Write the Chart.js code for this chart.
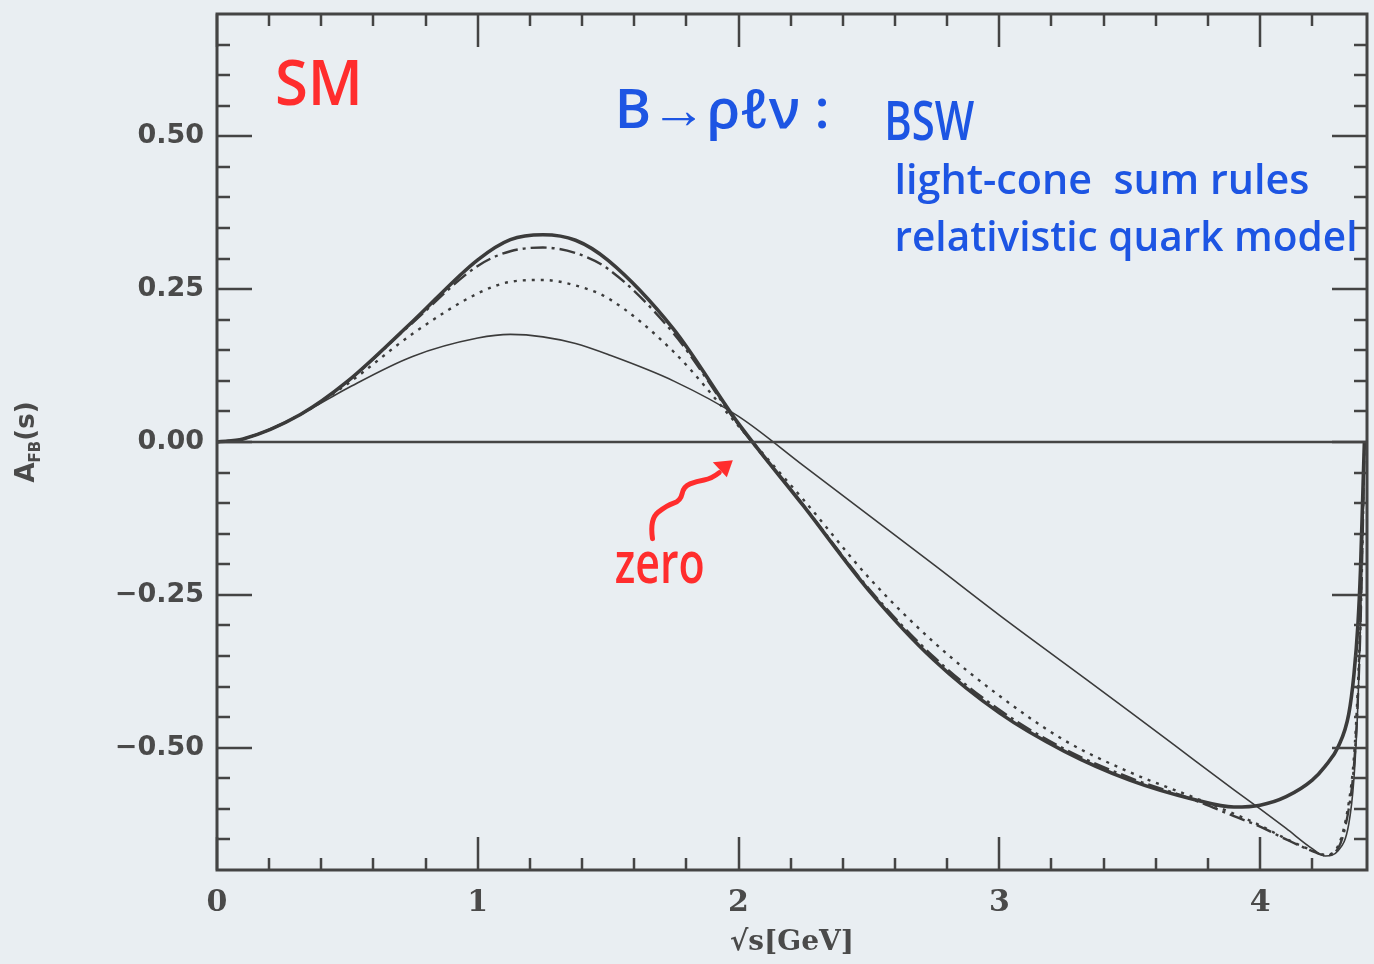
<!DOCTYPE html>
<html>
<head>
<meta charset="utf-8">
<title>A_FB(s) for B → ρℓν</title>
<script src="https://cdn.jsdelivr.net/npm/chart.js@4"></script>
<style>
  html, body { margin: 0; padding: 0; background: #e9eef2; }
  #wrap { width: 1374px; height: 964px; }
</style>
</head>
<body>
<div id="wrap"><canvas id="afbChart" width="1374" height="964"></canvas></div>
<script>
// sqrt(s) in GeV, shared by all curves (denser near the endpoint)
const sqrtS = [0, 0.1, 0.32, 0.5, 0.75, 1.0, 1.125, 1.25, 1.375, 1.5, 1.75, 2.0, 2.25, 2.5, 2.75, 3.0,
  3.25, 3.5, 3.75, 3.9, 4.0, 4.1, 4.2, 4.25, 4.3, 4.34, 4.36, 4.375, 4.385, 4.395, 4.40];

// forward-backward asymmetry, one list per curve
const afbThick = [0, 0.005, 0.045, 0.099, 0.197, 0.298, 0.331, 0.339, 0.330, 0.297, 0.185, 0.03, -0.105,
  -0.243, -0.357, -0.443, -0.506, -0.553, -0.585, -0.597, -0.594, -0.58, -0.553, -0.53,
  -0.498, -0.445, -0.38, -0.30, -0.21, -0.07, 0];
const afbDashDot = [0, 0.005, 0.045, 0.099, 0.195, 0.288, 0.312, 0.318, 0.309, 0.283, 0.178, 0.028, -0.104,
  -0.24, -0.352, -0.438, -0.502, -0.549, -0.586, -0.612, -0.629, -0.65, -0.669, -0.676,
  -0.664, -0.60, -0.53, -0.42, -0.30, -0.12, 0];
const afbDotted = [0, 0.005, 0.045, 0.095, 0.177, 0.243, 0.262, 0.265, 0.256, 0.235, 0.148, 0.026, -0.095,
  -0.222, -0.328, -0.415, -0.488, -0.54, -0.582, -0.608, -0.627, -0.649, -0.668, -0.675,
  -0.66, -0.59, -0.515, -0.40, -0.28, -0.10, 0];
const afbThin = [0, 0.005, 0.045, 0.088, 0.14, 0.17, 0.176, 0.172, 0.161, 0.143, 0.10, 0.042, -0.039,
  -0.12, -0.201, -0.283, -0.362, -0.441, -0.521, -0.569, -0.600, -0.632, -0.665, -0.677,
  -0.668, -0.625, -0.55, -0.43, -0.30, -0.12, 0];

// axis ranges and ticks
const xRange = [0, 4.41];
const yRange = [-0.70, 0.70];
const xMajor = [0, 1, 2, 3, 4];
const xMinor = [0.2, 0.4, 0.6, 0.8, 1.2, 1.4, 1.6, 1.8, 2.2, 2.4, 2.6, 2.8, 3.2, 3.4, 3.6, 3.8, 4.2];
const yMajor = [-0.5, -0.25, 0, 0.25, 0.5];
const yMinor = [-0.65, -0.6, -0.55, -0.45, -0.4, -0.35, -0.3, -0.2, -0.15, -0.1, -0.05,
  0.05, 0.1, 0.15, 0.2, 0.3, 0.35, 0.4, 0.45, 0.55, 0.6, 0.65];

const ink = '#3b3b3b';
const toPoints = vals => sqrtS.map((s, i) => ({ x: s, y: vals[i] }));

// frame with inward tick marks on all four sides
const frameTicks = {
  id: 'frameTicks',
  afterDatasetsDraw(chart) {
    const { ctx, chartArea: a, scales: { x, y } } = chart;
    ctx.save();
    ctx.strokeStyle = '#444';
    ctx.lineWidth = 2.5;
    ctx.beginPath();
    const xt = (v, len) => {
      const p = Math.round(x.getPixelForValue(v));
      ctx.moveTo(p, a.bottom); ctx.lineTo(p, a.bottom - len);
      ctx.moveTo(p, a.top); ctx.lineTo(p, a.top + len);
    };
    const yt = (v, len) => {
      const p = Math.round(y.getPixelForValue(v));
      ctx.moveTo(a.left, p); ctx.lineTo(a.left + len, p);
      ctx.moveTo(a.right, p); ctx.lineTo(a.right - len, p);
    };
    xMajor.forEach(v => xt(v, 33));
    xMinor.forEach(v => xt(v, 12));
    yMajor.forEach(v => yt(v, 35));
    yMinor.forEach(v => yt(v, 13));
    ctx.stroke();
    ctx.lineWidth = 3;
    ctx.strokeRect(a.left, a.top, a.right - a.left, a.bottom - a.top);
    ctx.restore();
  }
};

// y-axis title with the FB subscript
const yTitle = {
  id: 'yTitle',
  afterDraw(chart) {
    const { ctx, scales: { y } } = chart;
    const big = 'bold 26px "DejaVu Sans"';
    const small = 'bold 15px "DejaVu Sans"';
    ctx.save();
    ctx.fillStyle = '#4a4a4a';
    ctx.translate(34, y.getPixelForValue(0));
    ctx.rotate(-Math.PI / 2);
    ctx.textBaseline = 'alphabetic';
    ctx.font = big; const wA = ctx.measureText('A').width; const wS = ctx.measureText('(s)').width;
    ctx.font = small; const wF = ctx.measureText('FB').width;
    let cx = -(wA + wF + wS) / 2;
    ctx.font = big; ctx.fillText('A', cx, 0); cx += wA;
    ctx.font = small; ctx.fillText('FB', cx, 6); cx += wF;
    ctx.font = big; ctx.fillText('(s)', cx, 0);
    ctx.restore();
  }
};

// marker-pen notes on the plot
const notes = [
  { text: 'SM', x: 0.222, y: 0.551, size: 64, width: 88, color: '#ff2d2d' },
  { text: 'B→ρℓν :', x: 1.525, y: 0.513, size: 54, width: 215, color: '#1d55e3' },
  { text: 'BSW', x: 2.559, y: 0.494, size: 54, width: 90, color: '#1d55e3' },
  { text: 'light-cone  sum rules', x: 2.598, y: 0.405, size: 42, width: 415, color: '#1d55e3' },
  { text: 'relativistic quark model', x: 2.598, y: 0.312, size: 42, width: 463, color: '#1d55e3' },
  { text: 'zero', x: 1.525, y: -0.230, size: 58, width: 90, color: '#ff2d2d' }
];
const arrowPath = [[1.670, -0.158], [1.659, -0.126], [1.724, -0.104], [1.778, -0.096],
  [1.789, -0.073], [1.839, -0.064], [1.897, -0.060], [1.955, -0.040]];

const handNotes = {
  id: 'handNotes',
  afterDraw(chart) {
    const { ctx, scales: { x, y } } = chart;
    ctx.save();
    notes.forEach(n => {
      ctx.font = '600 ' + n.size + 'px "Open Sans"';
      ctx.fillStyle = n.color;
      const w = ctx.measureText(n.text).width;
      ctx.save();
      ctx.translate(x.getPixelForValue(n.x), y.getPixelForValue(n.y));
      ctx.scale(n.width / w, 1);
      ctx.fillText(n.text, 0, 0);
      ctx.restore();
    });
    // squiggly arrow pointing at the zero crossing
    const pts = arrowPath.map(p => [x.getPixelForValue(p[0]), y.getPixelForValue(p[1])]);
    ctx.strokeStyle = '#ff2d2d';
    ctx.fillStyle = '#ff2d2d';
    ctx.lineWidth = 5;
    ctx.lineCap = 'round';
    ctx.lineJoin = 'round';
    ctx.beginPath();
    ctx.moveTo(pts[0][0], pts[0][1]);
    for (let i = 1; i < pts.length - 1; i++) {
      const mx = (pts[i][0] + pts[i + 1][0]) / 2, my = (pts[i][1] + pts[i + 1][1]) / 2;
      ctx.quadraticCurveTo(pts[i][0], pts[i][1], mx, my);
    }
    ctx.stroke();
    const tip = [x.getPixelForValue(1.978), y.getPixelForValue(-0.030)];
    ctx.beginPath();
    ctx.moveTo(tip[0], tip[1]);
    ctx.lineTo(tip[0] - 20, tip[1] + 2);
    ctx.lineTo(tip[0] - 6, tip[1] + 17);
    ctx.closePath();
    ctx.fill();
    ctx.restore();
  }
};

const ctx = document.getElementById('afbChart').getContext('2d');
new Chart(ctx, {
  type: 'line',
  data: {
    datasets: [
      { data: xRange.map(v => ({ x: v, y: 0 })), borderColor: '#454545', borderWidth: 2.5 },
      { data: toPoints(afbThin), borderColor: ink, borderWidth: 1.6 },
      { data: toPoints(afbDotted), borderColor: ink, borderWidth: 2.4, borderDash: [3, 6] },
      { data: toPoints(afbDashDot), borderColor: ink, borderWidth: 2.4, borderDash: [16, 5, 3, 5] },
      { data: toPoints(afbThick), borderColor: ink, borderWidth: 3.6 }
    ]
  },
  options: {
    responsive: false,
    animation: false,
    layout: { padding: { top: 14, right: 7, left: 0, bottom: 0 } },
    elements: {
      point: { radius: 0 },
      line: { cubicInterpolationMode: 'monotone', fill: false }
    },
    plugins: { legend: { display: false }, tooltip: { enabled: false } },
    scales: {
      x: {
        type: 'linear',
        min: xRange[0],
        max: xRange[1],
        afterBuildTicks: s => { s.ticks = xMajor.map(v => ({ value: v })); },
        afterFit: s => { s.height = 94; s.paddingLeft = 0; s.paddingRight = 0; },
        grid: { display: false },
        border: { display: false },
        ticks: {
          autoSkip: false,
          maxRotation: 0,
          padding: 7,
          color: '#4a4a4a',
          font: { family: 'DejaVu Serif', weight: 'bold', size: 30 }
        },
        title: {
          display: true,
          text: '√s[GeV]',
          color: '#4a4a4a',
          padding: { top: 0, bottom: 4 },
          font: { family: 'DejaVu Serif', weight: 'bold', size: 28 }
        }
      },
      y: {
        type: 'linear',
        min: yRange[0],
        max: yRange[1],
        afterBuildTicks: s => { s.ticks = yMajor.map(v => ({ value: v })); },
        afterFit: s => { s.width = 217; s.paddingTop = 0; s.paddingBottom = 0; },
        grid: { display: false },
        border: { display: false },
        ticks: {
          padding: 5,
          color: '#4a4a4a',
          font: { family: 'DejaVu Sans', weight: 'bold', size: 27 },
          callback: v => (v < 0 ? '−' : '') + Math.abs(v).toFixed(2)
        }
      }
    }
  },
  plugins: [frameTicks, yTitle, handNotes]
});
</script>
</body>
</html>
